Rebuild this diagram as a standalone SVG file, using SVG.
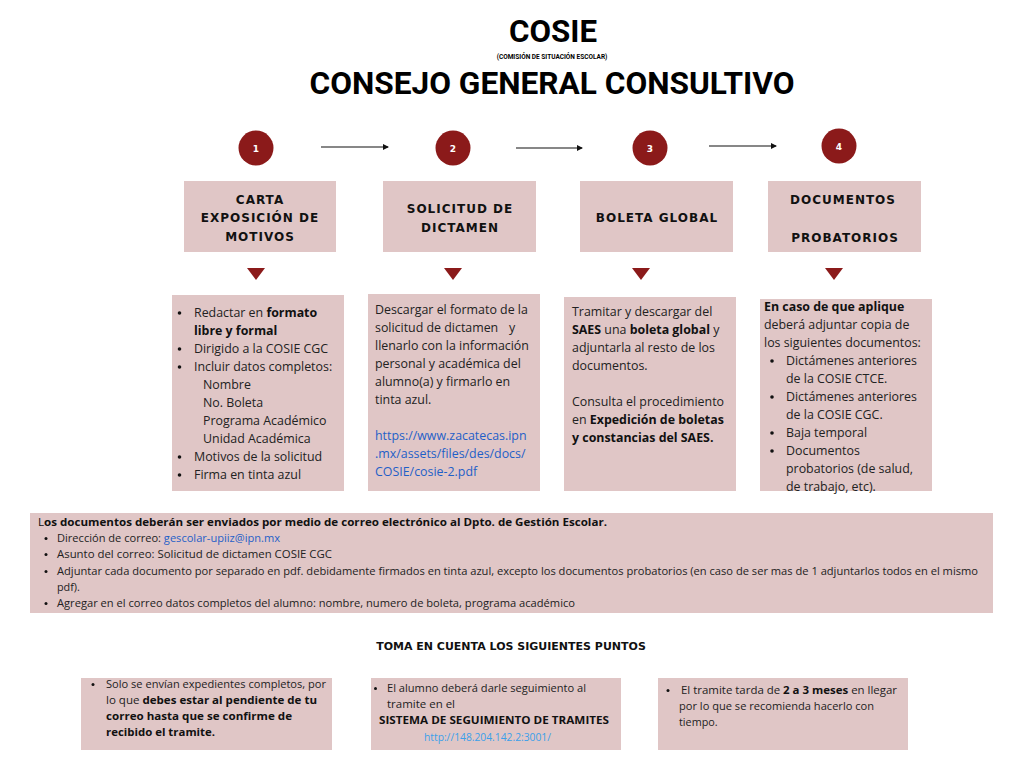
<svg xmlns="http://www.w3.org/2000/svg" width="1024" height="768" viewBox="0 0 1024 768">
<defs>
<style>
.bg{fill:#ffffff}
.box{fill:#e0c6c6}
.num{fill:#8b1a1a}
.nt{font-family:"DejaVu Sans",sans-serif;font-size:9px;font-weight:bold;fill:#ffffff;text-anchor:middle}
.title{font-family:"Roboto","Liberation Sans",sans-serif;font-weight:bold;fill:#000;text-anchor:middle}
.hd{font-family:"DejaVu Sans",sans-serif;font-weight:bold;font-size:12px;letter-spacing:1px;fill:#111;text-anchor:middle}
.tx{font-family:"Open Sans","Noto Sans",sans-serif;font-size:12.4px;fill:#222}
.sm{font-family:"Open Sans","Noto Sans",sans-serif;font-size:10.8px;fill:#222}
.b{font-weight:bold;fill:#111}
.n{font-weight:normal}
.lk{fill:#1f5fc8}
.lk2{fill:#3aa0ea}
.conn{stroke:#111;stroke-width:1.2;fill:none}
.tri{fill:#8b1a1a}
.dot{fill:#111}
</style>
<marker id="ah" viewBox="0 0 6 6" refX="5" refY="3" markerWidth="5" markerHeight="5" orient="auto"><path d="M0,0 L6,3 L0,6 z" fill="#111"/></marker>
</defs>
<rect class="bg" x="0" y="0" width="1024" height="768"/>

<g id="title">
<text class="title" x="553" y="42" font-size="32" textLength="88" lengthAdjust="spacingAndGlyphs">COSIE</text>
<text class="title" x="552" y="59" font-size="6.5">(COMISIÓN DE SITUACIÓN ESCOLAR)</text>
<text class="title" x="552" y="94" font-size="32" textLength="485" lengthAdjust="spacingAndGlyphs">CONSEJO GENERAL CONSULTIVO</text>
</g>

<g id="connectors">
<line class="conn" x1="321" y1="147" x2="388" y2="147" marker-end="url(#ah)"/>
<line class="conn" x1="516" y1="148" x2="582" y2="148" marker-end="url(#ah)" stroke="#555"/>
<line class="conn" x1="709" y1="146" x2="776" y2="146" marker-end="url(#ah)"/>
<polygon class="tri" points="247,268 265,268 256,280"/>
<polygon class="tri" points="444,268 462,268 453,280"/>
<polygon class="tri" points="632,268 650,268 641,280"/>
<polygon class="tri" points="825,268 843,268 834,280"/>
</g>

<g id="step1">
<circle class="num" cx="256" cy="148" r="17.5"/>
<text class="nt" x="256" y="151.5">1</text>
<rect class="box" x="184" y="181" width="152" height="71"/>
<text class="hd" x="260" y="204">CARTA</text>
<text class="hd" x="260" y="222">EXPOSICIÓN DE</text>
<text class="hd" x="260" y="241">MOTIVOS</text>
</g>
<g id="step2">
<circle class="num" cx="453" cy="148" r="17.5"/>
<text class="nt" x="453" y="151.5">2</text>
<rect class="box" x="383" y="181" width="153" height="71"/>
<text class="hd" x="460" y="213">SOLICITUD DE</text>
<text class="hd" x="460" y="232">DICTAMEN</text>
</g>
<g id="step3">
<circle class="num" cx="650" cy="148" r="17.5"/>
<text class="nt" x="650" y="151.5">3</text>
<rect class="box" x="580" y="181" width="153" height="71"/>
<text class="hd" x="657" y="222">BOLETA GLOBAL</text>
</g>
<g id="step4">
<circle class="num" cx="839" cy="146" r="17.5"/>
<text class="nt" x="839" y="149.5">4</text>
<rect class="box" x="768" y="181" width="153" height="71"/>
<text class="hd" x="843" y="204">DOCUMENTOS</text>
<text class="hd" x="845" y="242">PROBATORIOS</text>
</g>

<g id="detail1">
<rect class="box" x="172" y="295" width="172" height="196"/>
<circle class="dot" cx="179.5" cy="313" r="1.8"/>
<circle class="dot" cx="179.5" cy="349" r="1.8"/>
<circle class="dot" cx="179.5" cy="367" r="1.8"/>
<circle class="dot" cx="179.5" cy="457" r="1.8"/>
<circle class="dot" cx="179.5" cy="475" r="1.8"/>
<g class="tx">
<text x="194" y="317">Redactar en <tspan class="b">formato</tspan></text>
<text x="194" y="335" class="b">libre y formal</text>
<text x="194" y="353">Dirigido a la COSIE CGC</text>
<text x="194" y="371">Incluir datos completos:</text>
<text x="203" y="389">Nombre</text>
<text x="203" y="407">No. Boleta</text>
<text x="203" y="425">Programa Académico</text>
<text x="203" y="443">Unidad Académica</text>
<text x="194" y="461">Motivos de la solicitud</text>
<text x="194" y="479">Firma en tinta azul</text>
</g>
</g>

<g id="detail2">
<rect class="box" x="368" y="294" width="172" height="197"/>
<g class="tx">
<text x="375" y="314">Descargar el formato de la</text>
<text x="375" y="332">solicitud de dictamen</text><text x="509" y="332">y</text>
<text x="375" y="350">llenarlo con la información</text>
<text x="375" y="368">personal y académica del</text>
<text x="375" y="386">alumno(a) y firmarlo en</text>
<text x="375" y="404">tinta azul.</text>
<text x="375" y="440" class="lk">https://www.zacatecas.ipn</text>
<text x="375" y="458" class="lk">.mx/assets/files/des/docs/</text>
<text x="375" y="476" class="lk">COSIE/cosie-2.pdf</text>
</g>
</g>

<g id="detail3">
<rect class="box" x="564" y="297" width="172" height="194"/>
<g class="tx">
<text x="572" y="316">Tramitar y descargar del</text>
<text x="572" y="334"><tspan class="b">SAES</tspan> una <tspan class="b">boleta global</tspan> y</text>
<text x="572" y="352">adjuntarla al resto de los</text>
<text x="572" y="370">documentos.</text>
<text x="572" y="406">Consulta el procedimiento</text>
<text x="572" y="424">en <tspan class="b">Expedición de boletas</tspan></text>
<text x="572" y="442" class="b">y constancias del SAES.</text>
</g>
</g>

<g id="detail4">
<rect class="box" x="760" y="299" width="172" height="192"/>
<circle class="dot" cx="772" cy="361" r="1.8"/>
<circle class="dot" cx="772" cy="397" r="1.8"/>
<circle class="dot" cx="772" cy="433" r="1.8"/>
<circle class="dot" cx="772" cy="451" r="1.8"/>
<g class="tx">
<text x="764" y="311" class="b">En caso de que aplique</text>
<text x="764" y="329">deberá adjuntar copia de</text>
<text x="764" y="347">los siguientes documentos:</text>
<text x="786" y="365">Dictámenes anteriores</text>
<text x="786" y="383">de la COSIE CTCE.</text>
<text x="786" y="401">Dictámenes anteriores</text>
<text x="786" y="419">de la COSIE CGC.</text>
<text x="786" y="437">Baja temporal</text>
<text x="786" y="455">Documentos</text>
<text x="786" y="473">probatorios (de salud,</text>
<text x="786" y="491">de trabajo, etc).</text>
</g>
</g>

<g id="envio">
<rect class="box" x="30" y="513" width="963" height="100"/>
<circle class="dot" cx="46" cy="538.5" r="1.5"/>
<circle class="dot" cx="46" cy="554.5" r="1.5"/>
<circle class="dot" cx="46" cy="571.5" r="1.5"/>
<circle class="dot" cx="46" cy="603.5" r="1.5"/>
<g class="sm">
<text x="38" y="526" class="b" textLength="569" lengthAdjust="spacingAndGlyphs"><tspan class="n">L</tspan>os documentos deberán ser enviados por medio de correo electrónico al Dpto. de Gestión Escolar.</text>
<text x="57" y="542" textLength="223" lengthAdjust="spacingAndGlyphs">Dirección de correo: <tspan class="lk">gescolar-upiiz@ipn.mx</tspan></text>
<text x="57" y="558" textLength="275" lengthAdjust="spacingAndGlyphs">Asunto del correo: Solicitud de dictamen COSIE CGC</text>
<text x="57" y="575" textLength="921" lengthAdjust="spacingAndGlyphs">Adjuntar cada documento por separado en pdf. debidamente firmados en tinta azul, excepto los documentos probatorios (en caso de ser mas de 1 adjuntarlos todos en el mismo</text>
<text x="57" y="591">pdf).</text>
<text x="57" y="607" textLength="518" lengthAdjust="spacingAndGlyphs">Agregar en el correo datos completos del alumno: nombre, numero de boleta, programa académico</text>
</g>
</g>

<g id="puntos">
<text x="511" y="650" font-family="DejaVu Sans, sans-serif" font-weight="bold" font-size="11" fill="#111" text-anchor="middle">TOMA EN CUENTA LOS SIGUIENTES PUNTOS</text>
</g>

<g id="punto1">
<rect class="box" x="81" y="678" width="251" height="72"/>
<circle class="dot" cx="93" cy="684.5" r="1.5"/>
<g class="sm">
<text x="106" y="688" textLength="220" lengthAdjust="spacingAndGlyphs">Solo se envían expedientes completos, por</text>
<text x="106" y="704" textLength="211" lengthAdjust="spacingAndGlyphs">lo que <tspan class="b">debes estar al pendiente de tu</tspan></text>
<text x="106" y="720" class="b" textLength="186" lengthAdjust="spacingAndGlyphs">correo hasta que se confirme de</text>
<text x="106" y="736" class="b" textLength="109" lengthAdjust="spacingAndGlyphs">recibido el tramite.</text>
</g>
</g>
<g id="punto2">
<rect class="box" x="371" y="678" width="250" height="72"/>
<circle class="dot" cx="375.5" cy="688.5" r="1.5"/>
<g class="sm">
<text x="387" y="692" textLength="199" lengthAdjust="spacingAndGlyphs">El alumno deberá darle seguimiento al</text>
<text x="387" y="708" textLength="68" lengthAdjust="spacingAndGlyphs">tramite en el</text>
<text x="379" y="724" class="b" textLength="230" lengthAdjust="spacingAndGlyphs">SISTEMA DE SEGUIMIENTO DE TRAMITES</text>
<text x="424" y="741" class="lk2" textLength="127" lengthAdjust="spacingAndGlyphs">http://148.204.142.2:3001/</text>
</g>
</g>
<g id="punto3">
<rect class="box" x="658" y="678" width="250" height="72"/>
<circle class="dot" cx="668" cy="690.5" r="1.5"/>
<g class="sm">
<text x="681" y="694" textLength="216" lengthAdjust="spacingAndGlyphs">El tramite tarda de <tspan class="b">2 a 3 meses</tspan> en llegar</text>
<text x="679" y="710" textLength="195" lengthAdjust="spacingAndGlyphs">por lo que se recomienda hacerlo con</text>
<text x="679" y="726">tiempo.</text>
</g>
</g>
</svg>
